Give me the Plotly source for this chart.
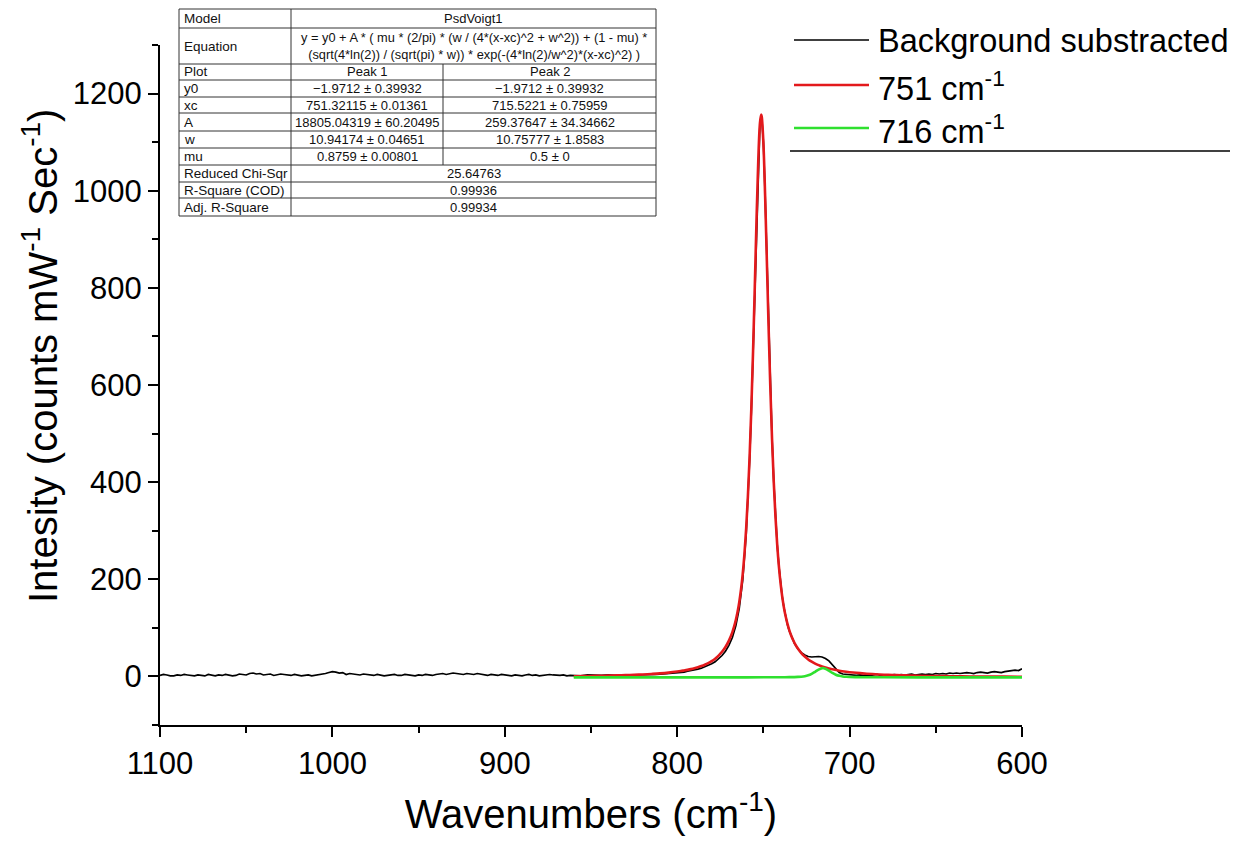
import plotly.graph_objects as go

# ---------------- data ----------------
# background-subtracted spectrum: flat left part (2 cm-1 grid), peak region, flat right part
bg_left_x = list(range(1100, 861, -2))
bg_left_y = [2, 4, 3, 1, 1, 3, 2, 4, 3, 2,
             1, 3, 2, 1, 4, 3, 1, 3, 2, 4,
             3, 1, 2, 5, 4, 3, 6, 7, 5, 6,
             3, 4, 5, 2, 3, 5, 4, 3, 2, 4,
             3, 1, 2, 3, 1, 2, 3, 5, 6, 8,
             10, 9, 7, 8, 4, 6, 5, 3, 3, 5,
             4, 2, 2, 4, 3, 1, 2, 3, 4, 2,
             2, 4, 3, 2, 1, 3, 2, 4, 3, 2,
             4, 5, 6, 4, 5, 7, 6, 5, 4, 6,
             5, 4, 6, 5, 3, 2, 4, 3, 2, 4,
             3, 2, 1, 3, 2, 1, 3, 4, 2, 3,
             1, 2, 2, 4, 3, 2, 2, 3, 1, 2]
bg_mid_x = [860, 856, 852, 848, 844, 840, 836, 832, 828, 824, 820, 816, 812, 808, 804, 800,
            798, 796, 794, 792, 790, 788, 786, 784, 782, 780, 778, 776, 774, 772, 770, 768, 766, 764, 762, 760,
            759, 758, 757, 756, 755, 754, 753, 752, 751, 750, 749, 748, 747, 746, 745, 744, 743, 742, 741, 740,
            739, 738, 737, 736, 735, 734, 733, 732,
            730, 728, 726, 724, 722, 720, 718, 716, 714, 712, 710, 708, 706, 704, 702, 700]
bg_mid_y = [2, 1, 3, 2, 2, 3, 2, 3, 2, 3, 3, 4, 4, 5, 6, 7,
            8, 9, 11, 12, 13, 15, 17, 20, 22, 26, 30, 36, 43, 52, 64, 80, 104, 140, 198, 292,
            360, 445, 545, 665, 800, 938, 1058, 1138, 1152, 1100, 992, 860, 724, 600, 492, 402, 330, 272, 227, 190,
            162, 140, 121, 106, 94, 84, 75, 68,
            57, 49, 44, 41, 40, 41, 41, 40, 37, 32, 24, 14, 8, 5, 4, 3]
bg_right_x = list(range(698, 599, -2))
bg_right_y = [3, 2, 3, 2, 3, 2, 3, 4, 2, 3,
              2, 3, 4, 3, 4, 3, 4, 5, 3, 4,
              5, 4, 5, 4, 6, 5, 6, 5, 7, 6,
              7, 6, 7, 8, 7, 6, 8, 9, 8, 7,
              9, 10, 9, 8, 10, 11, 12, 13, 12, 16]
bg_x = bg_left_x + bg_mid_x + bg_right_x
bg_y = bg_left_y + bg_mid_y + bg_right_y

p1_x = [860, 855, 850, 845, 840, 835, 830, 825, 820, 815, 810, 805, 800,
        798, 796, 794, 792, 790, 788, 786, 784, 782, 780, 778, 776, 774, 772, 770,
        769, 768, 767, 766, 765, 764, 763, 762, 761, 760, 759, 758, 757, 756, 755, 754, 753, 752,
        751.3, 751, 750, 749, 748, 747, 746, 745, 744, 743, 742, 741, 740, 739, 738, 737, 736, 735,
        734, 733, 732, 730, 728, 726, 724, 722, 720, 718, 716, 714, 712, 710, 706, 702, 698, 694,
        690, 685, 680, 675, 670, 665, 660, 650, 640, 630, 620, 610, 600]
p1_y = [0.5, 0.7, 1.0, 1.3, 1.7, 2.1, 2.6, 3.3, 4.1, 5.1, 6.3, 7.9, 10.0,
        11.0, 12.2, 13.5, 15.0, 16.8, 18.9, 21.3, 24.1, 27.5, 31.6, 36.6, 42.9, 50.7, 60.6, 73.7,
        81.8, 91.2, 102.5, 116.0, 132.4, 152.8, 178.4, 210.7, 252.0, 304.3, 370.3, 452.2, 551.9, 669.5,
        801.5, 938.0, 1059.5, 1139.1,
        1156.8, 1153.5, 1097.9, 989.7, 856.4, 720.9, 597.0, 489.9, 401.1, 328.9, 271.4, 226.1, 190.4,
        162.3, 140.0, 122.2, 107.6, 95.5,
        85.4, 76.8, 69.3, 57.4, 48.1, 40.9, 35.0, 30.3, 26.4, 23.2, 20.5, 18.2, 16.2, 14.6, 11.8, 9.7, 8.0, 6.7,
        5.6, 4.5, 3.6, 2.9, 2.4, 1.9, 1.5, 0.8, 0.3, 0.0, -0.3, -0.5, -0.7]

p2_x = [860, 800, 760, 745, 740, 735, 730, 728, 726, 724, 722, 720, 718, 716, 715, 714, 712, 710,
        708, 706, 704, 702, 700, 695, 690, 680, 660, 630, 600]
p2_y = [-1.96, -1.94, -1.86, -1.72, -1.62, -1.46, -0.97, -0.50, 0.43, 2.22, 5.26, 9.51, 14.09, 16.88,
        16.88, 15.88, 11.86, 7.26, 3.58, 1.19, -0.11, -0.78, -1.11, -1.48, -1.64, -1.80, -1.90, -1.94, -1.95]

series_names = ["Background substracted", "751 cm<sup>-1</sup>", "716 cm<sup>-1</sup>"]
series_colors = ["#000000", "#e3191c", "#2fe02f"]

x_title = "Wavenumbers (cm<sup>-1</sup>)"
y_title = "Intesity (counts mW<sup>-1</sup> Sec<sup>-1</sup>)"

table_labels = ["Model", "Equation", "Plot", "y0", "xc", "A", "w", "mu",
                "Reduced Chi-Sqr", "R-Square (COD)", "Adj. R-Square"]
table_model = "PsdVoigt1"
table_equation = ("y = y0 + A * ( mu * (2/pi) * (w / (4*(x-xc)^2 + w^2)) + (1 - mu) *<br>"
                  "(sqrt(4*ln(2)) / (sqrt(pi) * w)) * exp(-(4*ln(2)/w^2)*(x-xc)^2) )")
table_peak1 = ["Peak 1", "\u22121.9712 \u00b1 0.39932", "751.32115 \u00b1 0.01361",
               "18805.04319 \u00b1 60.20495", "10.94174 \u00b1 0.04651", "0.8759 \u00b1 0.00801"]
table_peak2 = ["Peak 2", "\u22121.9712 \u00b1 0.39932", "715.5221 \u00b1 0.75959",
               "259.37647 \u00b1 34.34662", "10.75777 \u00b1 1.8583", "0.5 \u00b1 0"]
table_stats = ["25.64763", "0.99936", "0.99934"]

# ---------------- figure ----------------
OFF = 8                       # page body margin
W, H = 1238 - OFF, 850 - OFF
# plot area on screen: x 160..1022, y 45..725
ML, MT = 160 - OFF, 45 - OFF
MR, MB = W - (1022 - OFF), H - (725 - OFF)
PW, PH = W - ML - MR, H - MT - MB
FONT = "Arial, Liberation Sans, sans-serif"


def fx(p):
    """screen pixel x -> paper x"""
    return (p - OFF - ML) / PW


def fy(p):
    """screen pixel y -> paper y"""
    return (H - MB - (p - OFF)) / PH


fig = go.Figure()
fig.add_trace(go.Scatter(x=bg_x, y=bg_y, mode="lines", name=series_names[0],
                         line=dict(color=series_colors[0], width=1.7)))
fig.add_trace(go.Scatter(x=p1_x, y=p1_y, mode="lines", name=series_names[1],
                         line=dict(color=series_colors[1], width=2.6, shape="spline")))
fig.add_trace(go.Scatter(x=p2_x, y=p2_y, mode="lines", name=series_names[2],
                         line=dict(color=series_colors[2], width=2.6, shape="spline")))

shapes = []
annotations = []

# ---- manual legend ----
leg_y = [40, 85, 128]
for i in range(3):
    shapes.append(dict(type="line", xref="paper", yref="paper",
                       x0=fx(794), x1=fx(869), y0=fy(leg_y[i]), y1=fy(leg_y[i]),
                       line=dict(color=series_colors[i], width=1.6 if i == 0 else 2.6)))
    annotations.append(dict(xref="paper", yref="paper", x=fx(876), y=fy(leg_y[i] + 1),
                            xanchor="left", yanchor="middle", showarrow=False,
                            text=series_names[i], font=dict(size=32.5, color="black", family=FONT)))
shapes.append(dict(type="line", xref="paper", yref="paper", x0=fx(790), x1=fx(1240),
                   y0=fy(151), y1=fy(151), line=dict(color="black", width=1.5)))

# ---- y-axis title ----
annotations.append(dict(xref="paper", yref="paper", x=fx(40), y=fy(356), xanchor="center",
                        yanchor="middle", showarrow=False, textangle=-90, text=y_title,
                        font=dict(size=40, color="black", family=FONT)))

# ---- fit-results table ----
tx = [179, 291, 443, 656]
ty = [9, 28, 64, 80, 97, 113, 131, 148, 165, 182, 198, 216]
lc = "#333333"
shapes.append(dict(type="rect", xref="paper", yref="paper", x0=fx(tx[0]), x1=fx(tx[3]),
                   y0=fy(ty[0]), y1=fy(ty[-1]), line=dict(color=lc, width=1)))
for yy in ty[1:-1]:
    shapes.append(dict(type="line", xref="paper", yref="paper", x0=fx(tx[0]), x1=fx(tx[3]),
                       y0=fy(yy), y1=fy(yy), line=dict(color=lc, width=1)))
shapes.append(dict(type="line", xref="paper", yref="paper", x0=fx(tx[1]), x1=fx(tx[1]),
                   y0=fy(ty[0]), y1=fy(ty[-1]), line=dict(color=lc, width=1)))
shapes.append(dict(type="line", xref="paper", yref="paper", x0=fx(tx[2]), x1=fx(tx[2]),
                   y0=fy(ty[2]), y1=fy(ty[8]), line=dict(color=lc, width=1)))

TF = dict(size=13, color="#111111", family=FONT)


def cell(text, r, c0, c1, align="center", font=TF):
    ymid = (ty[r] + ty[r + 1]) / 2
    if align == "left":
        x, xa = fx(tx[c0] + 3), "left"
    else:
        x, xa = fx((tx[c0] + tx[c1]) / 2), "center"
    annotations.append(dict(xref="paper", yref="paper", x=x, y=fy(ymid), xanchor=xa,
                            yanchor="middle", showarrow=False, text=text, font=font))


for r, lab in enumerate(table_labels):
    cell(lab, r, 0, 1, align="left", font=dict(size=13.5, color="#111111", family=FONT))
cell(table_model, 0, 1, 3)
cell(table_equation, 1, 1, 3, font=dict(size=12.8, color="#111111", family=FONT))
for k in range(6):
    cell(table_peak1[k], 2 + k, 1, 2)
    cell(table_peak2[k], 2 + k, 2, 3)
for k in range(3):
    cell(table_stats[k], 8 + k, 1, 3)

fig.update_layout(
    width=W, height=H, autosize=False,
    margin=dict(l=ML, r=MR, t=MT, b=MB, pad=0, autoexpand=False),
    paper_bgcolor="white", plot_bgcolor="white",
    showlegend=False,
    font=dict(family=FONT, color="black"),
    shapes=shapes, annotations=annotations,
    xaxis=dict(range=[1100, 600], tick0=600, dtick=100, automargin=False,
               showline=True, linewidth=2, linecolor="black", mirror=False,
               ticks="outside", ticklen=10, tickwidth=2, tickcolor="black",
               tickfont=dict(size=31, family=FONT),
               minor=dict(ticks="outside", ticklen=6, tickwidth=2, tickcolor="black",
                          dtick=50, tick0=600),
               showgrid=False, zeroline=False,
               title=dict(text=x_title, font=dict(size=40, family=FONT), standoff=20)),
    yaxis=dict(range=[-100, 1300], tick0=0, dtick=200, automargin=False,
               showline=True, linewidth=2, linecolor="black", mirror=False,
               ticks="outside", ticklen=10, tickwidth=2, tickcolor="black",
               tickfont=dict(size=31, family=FONT),
               minor=dict(ticks="outside", ticklen=6, tickwidth=2, tickcolor="black",
                          dtick=100, tick0=0),
               showgrid=False, zeroline=False),
)

fig.write_html("out.html")
